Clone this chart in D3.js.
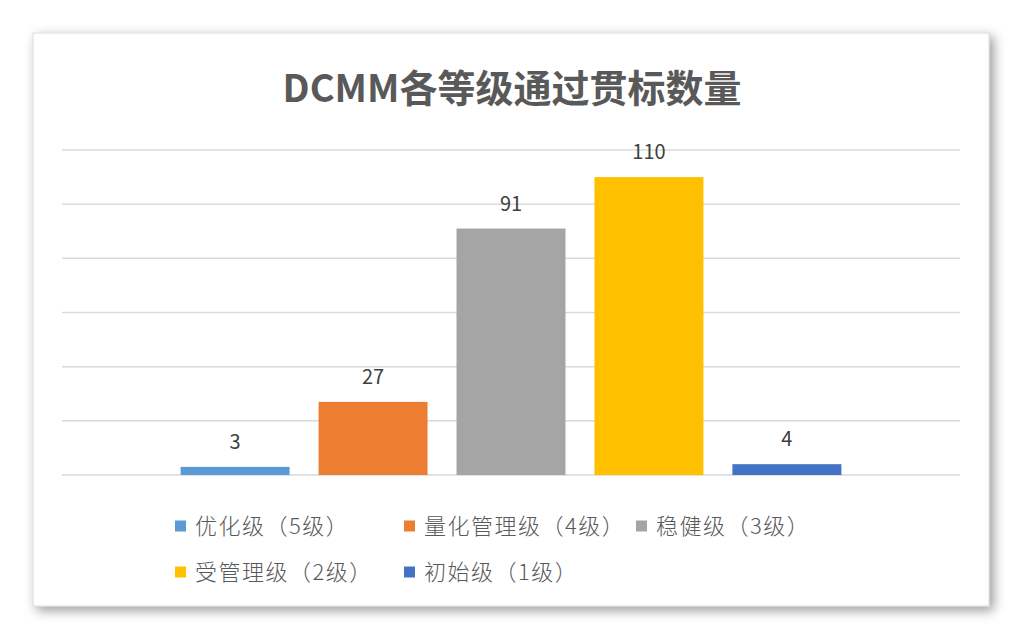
<!DOCTYPE html>
<html>
<head>
<meta charset="utf-8">
<script src="https://cdn.jsdelivr.net/npm/d3@7"></script>
<style>
  body { margin: 0; background: #fff; }
  svg text { font-family: "Noto Sans CJK SC", "Noto Sans", sans-serif; }
</style>
</head>
<body>
<svg id="chart" width="1023" height="640"></svg>
<script>
// data
var seriesNames = ["优化级（5级）", "量化管理级（4级）", "稳健级（3级）", "受管理级（2级）", "初始级（1级）"];
var seriesValues = [3, 27, 91, 110, 4];
var seriesColors = ["#5b9bd5", "#ed7d31", "#a5a5a5", "#ffc000", "#4472c4"];
var yTicks = [0, 20, 40, 60, 80, 100, 120];

var svg = d3.select("#chart");

// card with shadow
var defs = svg.append("defs");
var f = defs.append("filter").attr("id", "shadow")
    .attr("x", "-10%").attr("y", "-10%").attr("width", "120%").attr("height", "120%");
f.append("feDropShadow")
    .attr("dx", 4).attr("dy", 4).attr("stdDeviation", 6)
    .attr("flood-color", "#000").attr("flood-opacity", 0.4);

svg.append("rect")
    .attr("x", 33).attr("y", 33)
    .attr("width", 956).attr("height", 573)
    .attr("fill", "#fff")
    .attr("stroke", "#d9d9d9")
    .attr("filter", "url(#shadow)");

// title
svg.append("text")
    .attr("x", 512).attr("y", 102)
    .attr("text-anchor", "middle")
    .attr("font-size", 38)
    .attr("font-weight", "bold")
    .attr("fill", "#595959")
    .text("DCMM各等级通过贯标数量");

var plotLeft = 62, plotRight = 960, plotTop = 150, plotBottom = 475;

var y = d3.scaleLinear().domain([0, 120]).range([plotBottom, plotTop]);
var x = d3.scaleBand().domain(seriesNames).range([plotLeft, plotRight])
    .paddingInner(0.21).paddingOuter(0.86);

// gridlines
svg.append("g").selectAll("line")
    .data(yTicks)
    .enter()
    .append("line")
    .attr("x1", plotLeft).attr("x2", plotRight)
    .attr("y1", d => y(d)).attr("y2", d => y(d))
    .attr("stroke", "#d9d9d9")
    .attr("stroke-width", 1.5);

// bars
var data = seriesNames.map((n, i) => ({name: n, value: seriesValues[i], color: seriesColors[i]}));

svg.append("g").selectAll("rect")
    .data(data)
    .enter()
    .append("rect")
    .attr("x", d => x(d.name))
    .attr("y", d => y(d.value))
    .attr("width", x.bandwidth())
    .attr("height", d => y(0) - y(d.value))
    .attr("fill", d => d.color);

// value labels
svg.append("g").selectAll("text")
    .data(data)
    .enter()
    .append("text")
    .attr("x", d => x(d.name) + x.bandwidth() / 2)
    .attr("y", d => y(d.value) - 18)
    .attr("text-anchor", "middle")
    .attr("font-size", 20)
    .attr("fill", "#404040")
    .text(d => d.value);

// legend
var legendPos = [[175, 526], [404, 526], [636, 526], [175, 572], [404, 572]];
var lg = svg.append("g").selectAll("g")
    .data(data)
    .enter()
    .append("g")
    .attr("transform", (d, i) => "translate(" + legendPos[i][0] + "," + legendPos[i][1] + ")");
lg.append("rect")
    .attr("x", 0).attr("y", -5.5)
    .attr("width", 11).attr("height", 11)
    .attr("fill", d => d.color);
lg.append("text")
    .attr("x", 20).attr("y", 8)
    .attr("font-size", 22)
    .attr("font-weight", 300)
    .attr("letter-spacing", 1.5)
    .attr("fill", "#595959")
    .text(d => d.name);
</script>
</body>
</html>
